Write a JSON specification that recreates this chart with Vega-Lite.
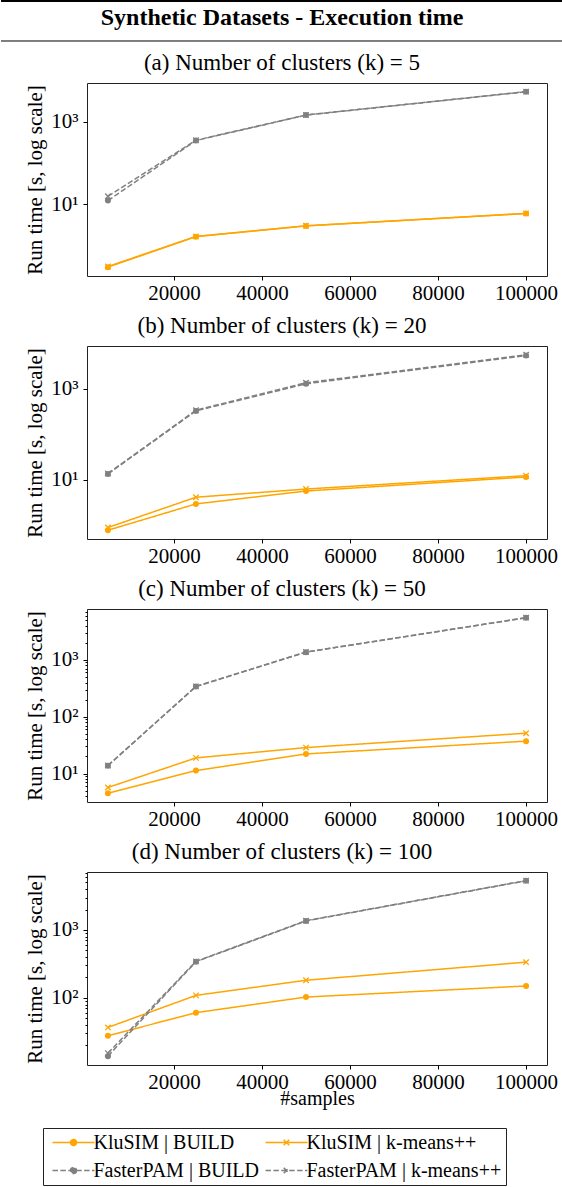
{
  "$schema": "https://vega.github.io/schema/vega-lite/v6.json",
  "padding": 0,
  "background": "white",
  "bounds": "flush",
  "spacing": 70,
  "datasets": {
    "runs": [
      {"panel": "a", "series": "KluSIM | BUILD", "n": 5000, "time": 0.30},
      {"panel": "a", "series": "KluSIM | BUILD", "n": 25000, "time": 1.64},
      {"panel": "a", "series": "KluSIM | BUILD", "n": 50000, "time": 2.98},
      {"panel": "a", "series": "KluSIM | BUILD", "n": 100000, "time": 5.93},
      {"panel": "a", "series": "KluSIM | k-means++", "n": 5000, "time": 0.31},
      {"panel": "a", "series": "KluSIM | k-means++", "n": 25000, "time": 1.66},
      {"panel": "a", "series": "KluSIM | k-means++", "n": 50000, "time": 3.0},
      {"panel": "a", "series": "KluSIM | k-means++", "n": 100000, "time": 6.0},
      {"panel": "a", "series": "FasterPAM | BUILD", "n": 5000, "time": 12.2},
      {"panel": "a", "series": "FasterPAM | BUILD", "n": 25000, "time": 347},
      {"panel": "a", "series": "FasterPAM | BUILD", "n": 50000, "time": 1429},
      {"panel": "a", "series": "FasterPAM | BUILD", "n": 100000, "time": 5250},
      {"panel": "a", "series": "FasterPAM | k-means++", "n": 5000, "time": 15.5},
      {"panel": "a", "series": "FasterPAM | k-means++", "n": 25000, "time": 352},
      {"panel": "a", "series": "FasterPAM | k-means++", "n": 50000, "time": 1440},
      {"panel": "a", "series": "FasterPAM | k-means++", "n": 100000, "time": 5280},

      {"panel": "b", "series": "KluSIM | BUILD", "n": 5000, "time": 0.785},
      {"panel": "b", "series": "KluSIM | BUILD", "n": 25000, "time": 2.97},
      {"panel": "b", "series": "KluSIM | BUILD", "n": 50000, "time": 5.7},
      {"panel": "b", "series": "KluSIM | BUILD", "n": 100000, "time": 11.6},
      {"panel": "b", "series": "KluSIM | k-means++", "n": 5000, "time": 0.9},
      {"panel": "b", "series": "KluSIM | k-means++", "n": 25000, "time": 4.17},
      {"panel": "b", "series": "KluSIM | k-means++", "n": 50000, "time": 6.3},
      {"panel": "b", "series": "KluSIM | k-means++", "n": 100000, "time": 12.4},
      {"panel": "b", "series": "FasterPAM | BUILD", "n": 5000, "time": 13.5},
      {"panel": "b", "series": "FasterPAM | BUILD", "n": 25000, "time": 328},
      {"panel": "b", "series": "FasterPAM | BUILD", "n": 50000, "time": 1290},
      {"panel": "b", "series": "FasterPAM | BUILD", "n": 100000, "time": 5400},
      {"panel": "b", "series": "FasterPAM | k-means++", "n": 5000, "time": 13.8},
      {"panel": "b", "series": "FasterPAM | k-means++", "n": 25000, "time": 340},
      {"panel": "b", "series": "FasterPAM | k-means++", "n": 50000, "time": 1360},
      {"panel": "b", "series": "FasterPAM | k-means++", "n": 100000, "time": 5600},

      {"panel": "c", "series": "KluSIM | BUILD", "n": 5000, "time": 4.5},
      {"panel": "c", "series": "KluSIM | BUILD", "n": 25000, "time": 11.3},
      {"panel": "c", "series": "KluSIM | BUILD", "n": 50000, "time": 22.2},
      {"panel": "c", "series": "KluSIM | BUILD", "n": 100000, "time": 37.2},
      {"panel": "c", "series": "KluSIM | k-means++", "n": 5000, "time": 5.7},
      {"panel": "c", "series": "KluSIM | k-means++", "n": 25000, "time": 18.9},
      {"panel": "c", "series": "KluSIM | k-means++", "n": 50000, "time": 28.7},
      {"panel": "c", "series": "KluSIM | k-means++", "n": 100000, "time": 51.4},
      {"panel": "c", "series": "FasterPAM | BUILD", "n": 5000, "time": 13.8},
      {"panel": "c", "series": "FasterPAM | BUILD", "n": 25000, "time": 339},
      {"panel": "c", "series": "FasterPAM | BUILD", "n": 50000, "time": 1367},
      {"panel": "c", "series": "FasterPAM | BUILD", "n": 100000, "time": 5490},
      {"panel": "c", "series": "FasterPAM | k-means++", "n": 5000, "time": 13.9},
      {"panel": "c", "series": "FasterPAM | k-means++", "n": 25000, "time": 342},
      {"panel": "c", "series": "FasterPAM | k-means++", "n": 50000, "time": 1375},
      {"panel": "c", "series": "FasterPAM | k-means++", "n": 100000, "time": 5520},

      {"panel": "d", "series": "KluSIM | BUILD", "n": 5000, "time": 27.7},
      {"panel": "d", "series": "KluSIM | BUILD", "n": 25000, "time": 60.7},
      {"panel": "d", "series": "KluSIM | BUILD", "n": 50000, "time": 103},
      {"panel": "d", "series": "KluSIM | BUILD", "n": 100000, "time": 150},
      {"panel": "d", "series": "KluSIM | k-means++", "n": 5000, "time": 36.8},
      {"panel": "d", "series": "KluSIM | k-means++", "n": 25000, "time": 109},
      {"panel": "d", "series": "KluSIM | k-means++", "n": 50000, "time": 182},
      {"panel": "d", "series": "KluSIM | k-means++", "n": 100000, "time": 336},
      {"panel": "d", "series": "FasterPAM | BUILD", "n": 5000, "time": 13.9},
      {"panel": "d", "series": "FasterPAM | BUILD", "n": 25000, "time": 341},
      {"panel": "d", "series": "FasterPAM | BUILD", "n": 50000, "time": 1359},
      {"panel": "d", "series": "FasterPAM | BUILD", "n": 100000, "time": 5300},
      {"panel": "d", "series": "FasterPAM | k-means++", "n": 5000, "time": 15.4},
      {"panel": "d", "series": "FasterPAM | k-means++", "n": 25000, "time": 345},
      {"panel": "d", "series": "FasterPAM | k-means++", "n": 50000, "time": 1370},
      {"panel": "d", "series": "FasterPAM | k-means++", "n": 100000, "time": 5320}
    ]
  },
  "vconcat": [
    {
      "width": 460,
      "height": 12,
      "view": {"stroke": null},
      "data": {"values": [{"label": "Synthetic Datasets - Execution time"}]},
      "layer": [
        {
          "mark": {"type": "text", "font": "Liberation Serif", "fontSize": 24, "fontWeight": "bold", "align": "center", "baseline": "middle", "color": "black"},
          "encoding": {
            "x": {"datum": 195, "type": "quantitative", "scale": {"domain": [0, 460], "nice": false, "zero": false}, "axis": null},
            "y": {"datum": -0.375, "type": "quantitative", "scale": {"domain": [0, 1], "nice": false, "zero": false}, "axis": null},
            "text": {"field": "label"}
          }
        },
        {
          "mark": {"type": "rule", "color": "black", "strokeWidth": 2},
          "encoding": {
            "x": {"datum": -86, "type": "quantitative"},
            "x2": {"datum": 476},
            "y": {"datum": 1, "type": "quantitative"}
          }
        },
        {
          "mark": {"type": "rule", "color": "black", "strokeWidth": 1},
          "encoding": {
            "x": {"datum": -86, "type": "quantitative"},
            "x2": {"datum": 476},
            "y": {"datum": -2.3333, "type": "quantitative"}
          }
        }
      ]
    },
    {
      "title": {"text": "(a) Number of clusters (k) = 5", "dx": -35},
      "width": 460,
      "height": 193,
      "data": {"name": "runs"},
      "transform": [{"filter": "datum.panel == 'a'"}],
      "encoding": {
        "x": {"field": "n", "type": "quantitative", "scale": {"domain": [250, 104750], "nice": false, "zero": false}, "axis": {"values": [20000, 40000, 60000, 80000, 100000], "format": "d", "title": null}},
        "y": {"field": "time", "type": "quantitative", "scale": {"type": "log", "domain": [0.183, 8550], "nice": false}, "axis": {"values": [10, 1000], "title": "Run time [s, log scale]", "labelExpr": "datum.value == 10 ? '10¹' : datum.value == 100 ? '10²' : datum.value == 1000 ? '10³' : ''"}}
      },
      "layer": [
        {
          "mark": {"type": "line", "strokeWidth": 1.5},
          "encoding": {
            "color": {
              "field": "series", "type": "nominal",
              "scale": {"domain": ["KluSIM | BUILD", "FasterPAM | BUILD", "KluSIM | k-means++", "FasterPAM | k-means++"], "range": ["#ffa500", "#808080", "#ffa500", "#808080"]},
              "legend": {
                "title": null, "orient": "none", "legendX": -44, "legendY": 1127,
                "columns": 2, "columnPadding": 1, "rowPadding": 8,
                "padding": 4.5, "strokeColor": "#222", "fillColor": "white", "cornerRadius": 0,
                "labelFont": "Liberation Serif", "labelFontSize": 20, "labelColor": "black", "labelLimit": 400,
                "symbolSize": 100, "symbolStrokeWidth": 1.5, "symbolOffset": 16, "labelOffset": 10,
                "encode": {
                  "symbols": {
                    "update": {
                      "shape": {"signal": "indexof(datum.value, 'k-means') >= 0 ? 'M-4.2,0H4.2M-0.55,-0.55L0.55,0.55M-0.55,0.55L0.55,-0.55' : 'M-4.2,0H4.2M0.6,0A0.6,0.6 0 1,1 -0.6,0A0.6,0.6 0 1,1 0.6,0Z'"},
                      "strokeDash": {"signal": "indexof(datum.value, 'Faster') >= 0 ? [5.5, 2.4] : [1, 0]"},
                      "fill": {"signal": "indexof(datum.value, 'KluSIM') >= 0 ? '#ffa500' : '#808080'"},
                      "stroke": {"signal": "indexof(datum.value, 'KluSIM') >= 0 ? '#ffa500' : '#808080'"},
                      "opacity": {"value": 1},
                      "fillOpacity": {"value": 1},
                      "strokeWidth": {"value": 1.5}
                    }
                  }
                }
              }
            },
            "strokeDash": {"field": "series", "type": "nominal", "scale": {"domain": ["KluSIM | BUILD", "FasterPAM | BUILD", "KluSIM | k-means++", "FasterPAM | k-means++"], "range": [[1, 0], [5.5, 2.4], [1, 0], [5.5, 2.4]]}, "legend": null}
          }
        },
        {
          "transform": [{"filter": "indexof(datum.series, 'BUILD') >= 0"}],
          "mark": {"type": "point", "shape": "circle", "filled": true, "size": 36, "opacity": 1},
          "encoding": {"color": {"field": "series", "type": "nominal", "legend": null}}
        },
        {
          "transform": [{"filter": "indexof(datum.series, 'k-means') >= 0"}],
          "mark": {"type": "point", "shape": "M-1,-1L1,1M-1,1L1,-1", "filled": false, "size": 30, "strokeWidth": 1.3, "opacity": 1},
          "encoding": {"color": {"field": "series", "type": "nominal", "legend": null}}
        }
      ]
    },
    {
      "title": {"text": "(b) Number of clusters (k) = 20", "dx": -35},
      "width": 460,
      "height": 193,
      "data": {"name": "runs"},
      "transform": [{"filter": "datum.panel == 'b'"}],
      "encoding": {
        "x": {"field": "n", "type": "quantitative", "scale": {"domain": [250, 104750], "nice": false, "zero": false}, "axis": {"values": [20000, 40000, 60000, 80000, 100000], "format": "d", "title": null}},
        "y": {"field": "time", "type": "quantitative", "scale": {"type": "log", "domain": [0.504, 8730], "nice": false}, "axis": {"values": [10, 1000], "title": "Run time [s, log scale]", "labelExpr": "datum.value == 10 ? '10¹' : datum.value == 100 ? '10²' : datum.value == 1000 ? '10³' : ''"}}
      },
      "layer": [
        {
          "mark": {"type": "line", "strokeWidth": 1.5},
          "encoding": {
            "color": {"field": "series", "type": "nominal", "legend": null},
            "strokeDash": {"field": "series", "type": "nominal", "legend": null}
          }
        },
        {
          "transform": [{"filter": "indexof(datum.series, 'BUILD') >= 0"}],
          "mark": {"type": "point", "shape": "circle", "filled": true, "size": 36, "opacity": 1},
          "encoding": {"color": {"field": "series", "type": "nominal", "legend": null}}
        },
        {
          "transform": [{"filter": "indexof(datum.series, 'k-means') >= 0"}],
          "mark": {"type": "point", "shape": "M-1,-1L1,1M-1,1L1,-1", "filled": false, "size": 30, "strokeWidth": 1.3, "opacity": 1},
          "encoding": {"color": {"field": "series", "type": "nominal", "legend": null}}
        }
      ]
    },
    {
      "title": {"text": "(c) Number of clusters (k) = 50", "dx": -35},
      "width": 460,
      "height": 193,
      "data": {"name": "runs"},
      "transform": [{"filter": "datum.panel == 'c'"}],
      "encoding": {
        "x": {"field": "n", "type": "quantitative", "scale": {"domain": [250, 104750], "nice": false, "zero": false}, "axis": {"values": [20000, 40000, 60000, 80000, 100000], "format": "d", "title": null}},
        "y": {"field": "time", "type": "quantitative", "scale": {"type": "log", "domain": [3.17, 7840], "nice": false}, "axis": {"values": [4, 5, 6, 7, 8, 9, 10, 20, 30, 40, 50, 60, 70, 80, 90, 100, 200, 300, 400, 500, 600, 700, 800, 900, 1000, 2000, 3000, 4000, 5000, 6000, 7000], "title": "Run time [s, log scale]", "labelOverlap": false, "labelExpr": "datum.value == 10 ? '10¹' : datum.value == 100 ? '10²' : datum.value == 1000 ? '10³' : ''", "labelFontSize": {"condition": {"test": "datum.value == 10 || datum.value == 100 || datum.value == 1000", "value": 21}, "value": 0}, "tickSize": {"condition": {"test": "datum.value == 10 || datum.value == 100 || datum.value == 1000", "value": 4}, "value": 2}}}
      },
      "layer": [
        {
          "mark": {"type": "line", "strokeWidth": 1.5},
          "encoding": {
            "color": {"field": "series", "type": "nominal", "legend": null},
            "strokeDash": {"field": "series", "type": "nominal", "legend": null}
          }
        },
        {
          "transform": [{"filter": "indexof(datum.series, 'BUILD') >= 0"}],
          "mark": {"type": "point", "shape": "circle", "filled": true, "size": 36, "opacity": 1},
          "encoding": {"color": {"field": "series", "type": "nominal", "legend": null}}
        },
        {
          "transform": [{"filter": "indexof(datum.series, 'k-means') >= 0"}],
          "mark": {"type": "point", "shape": "M-1,-1L1,1M-1,1L1,-1", "filled": false, "size": 30, "strokeWidth": 1.3, "opacity": 1},
          "encoding": {"color": {"field": "series", "type": "nominal", "legend": null}}
        }
      ]
    },
    {
      "title": {"text": "(d) Number of clusters (k) = 100", "dx": -35},
      "width": 460,
      "height": 193,
      "data": {"name": "runs"},
      "transform": [{"filter": "datum.panel == 'd'"}],
      "encoding": {
        "x": {"field": "n", "type": "quantitative", "scale": {"domain": [250, 104750], "nice": false, "zero": false}, "axis": {"values": [20000, 40000, 60000, 80000, 100000], "format": "d", "title": "#samples", "titleFontSize": 20}},
        "y": {"field": "time", "type": "quantitative", "scale": {"type": "log", "domain": [10.3, 7130], "nice": false}, "axis": {"values": [20, 30, 40, 50, 60, 70, 80, 90, 100, 200, 300, 400, 500, 600, 700, 800, 900, 1000, 2000, 3000, 4000, 5000, 6000, 7000], "title": "Run time [s, log scale]", "labelOverlap": false, "labelExpr": "datum.value == 10 ? '10¹' : datum.value == 100 ? '10²' : datum.value == 1000 ? '10³' : ''", "labelFontSize": {"condition": {"test": "datum.value == 10 || datum.value == 100 || datum.value == 1000", "value": 21}, "value": 0}, "tickSize": {"condition": {"test": "datum.value == 10 || datum.value == 100 || datum.value == 1000", "value": 4}, "value": 2}}}
      },
      "layer": [
        {
          "mark": {"type": "line", "strokeWidth": 1.5},
          "encoding": {
            "color": {"field": "series", "type": "nominal", "legend": null},
            "strokeDash": {"field": "series", "type": "nominal", "legend": null}
          }
        },
        {
          "transform": [{"filter": "indexof(datum.series, 'BUILD') >= 0"}],
          "mark": {"type": "point", "shape": "circle", "filled": true, "size": 36, "opacity": 1},
          "encoding": {"color": {"field": "series", "type": "nominal", "legend": null}}
        },
        {
          "transform": [{"filter": "indexof(datum.series, 'k-means') >= 0"}],
          "mark": {"type": "point", "shape": "M-1,-1L1,1M-1,1L1,-1", "filled": false, "size": 30, "strokeWidth": 1.3, "opacity": 1},
          "encoding": {"color": {"field": "series", "type": "nominal", "legend": null}}
        }
      ]
    }
  ],
  "config": {
    "font": "Liberation Serif",
    "view": {"stroke": "#222", "strokeWidth": 1},
    "axis": {
      "domain": false, "grid": false,
      "labelFont": "Liberation Serif", "labelFontSize": 21, "labelColor": "black",
      "titleFont": "Liberation Serif", "titleFontSize": 21, "titleFontWeight": "normal", "titleColor": "black",
      "tickColor": "black", "tickWidth": 1, "tickSize": 4
    },
    "axisX": {"labelPadding": 2, "titlePadding": -4},
    "axisY": {"labelPadding": 5, "titlePadding": 5},
    "title": {"font": "Liberation Serif", "fontSize": 23, "fontWeight": "normal", "color": "black", "offset": 8}
  }
}
